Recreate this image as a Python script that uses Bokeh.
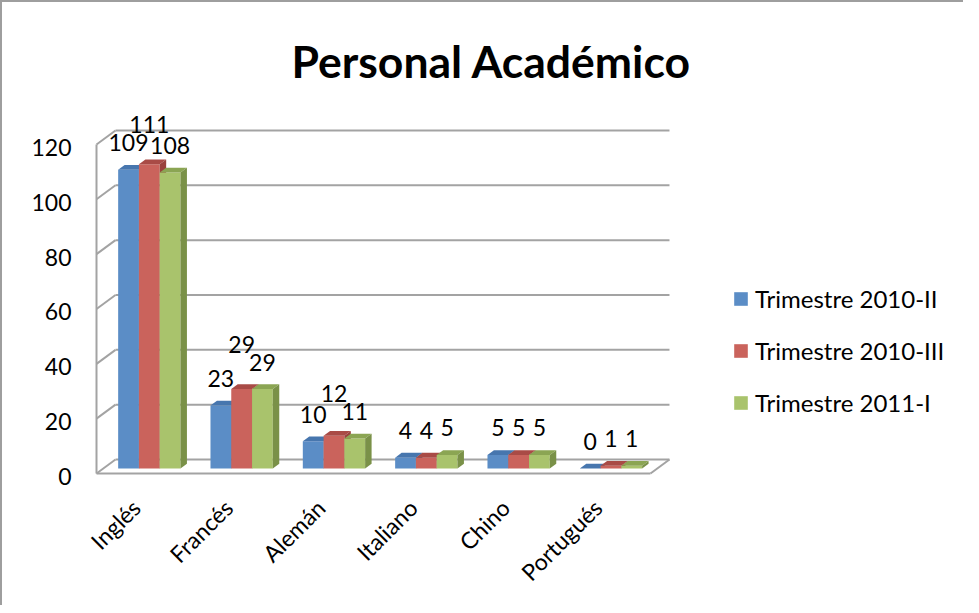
import math
from bokeh.plotting import figure
from bokeh.models import (ColumnDataSource, FixedTicker, Range1d, Legend, LegendItem, Label,
                          CustomJSTickFormatter)
from bokeh.core.properties import value
from bokeh.embed import file_html
from bokeh.resources import INLINE

# ---------------- data ----------------
categories = ["Inglés", "Francés", "Alemán", "Italiano", "Chino", "Portugués"]
series_names = ["Trimestre 2010-II", "Trimestre 2010-III", "Trimestre 2011-I"]
trim_2010_II = [109, 23, 10, 4, 5, 0]
trim_2010_III = [111, 29, 12, 4, 5, 1]
trim_2011_I = [108, 29, 11, 5, 5, 1]
y_ticks = [0, 20, 40, 60, 80, 100, 120]
title_text = "Personal Académico"

# ---------------- style ----------------
FONT = "Lato"
front_colors = ["#5B8DC6", "#CA635C", "#A9C36C"]
top_colors = ["#4776AE", "#A94B46", "#8BA553"]
side_colors = ["#3F6A9E", "#9A423D", "#7A9148"]
LINE_COLOR = "#A3A3A3"

W, H = 963, 605
PX = 92.33      # px per category
PY = 2.742      # px per value unit
FRAME_LEFT = 93  # canvas px
FRAME_BOTTOM = 476
PAD = 3
SHIFT = 0.072   # category centres sit a little right of the (invisible) ticks
x_start = -0.5 + SHIFT - PAD / PX
x_end = x_start + (W - FRAME_LEFT) / PX
y_start = -PAD / PY
y_end = y_start + FRAME_BOTTOM / PY
YLAB_OFF = 3 / PY  # y tick labels sit slightly below their gridline ends

DXu = 19 / PX     # 3D depth offset in data units
DYu = 14 / PY
F0 = 0.35         # depth of bar front
DEP = 0.34        # bar depth fraction
BW = 0.225        # bar width (category units)


def xdata(page_x):
    return x_start + (page_x - (FRAME_LEFT + 8)) / PX


def ydata(page_y):
    return y_start + ((FRAME_BOTTOM + 8) - page_y) / PY


p = figure(width=W, height=H, output_backend="svg", toolbar_location=None,
           x_range=Range1d(x_start, x_end), y_range=Range1d(y_start, y_end),
           min_border_left=FRAME_LEFT, min_border_right=0, min_border_top=0,
           min_border_bottom=H - FRAME_BOTTOM,
           background_fill_color=None, border_fill_color=None, outline_line_color=None)
p.styles = {"box-shadow": "inset 2px 2px 0 0 #9E9E9E", "margin-bottom": "-8px"}
p.grid.visible = False

# axes
ya = p.yaxis[0]
ya.ticker = FixedTicker(ticks=[v - YLAB_OFF for v in y_ticks])
ya.formatter = CustomJSTickFormatter(args=dict(off=YLAB_OFF),
                                     code="return String(Math.round(tick + off))")
ya.axis_line_color = None
ya.major_tick_line_color = None
ya.minor_tick_line_color = None
ya.major_tick_out = 0
ya.major_tick_in = 0
ya.major_label_standoff = 22
ya.major_label_text_font = FONT
ya.major_label_text_font_size = "23px"
ya.major_label_text_color = "#000000"

xa = p.xaxis[0]
xa.ticker = FixedTicker(ticks=list(range(len(categories))))
xa.major_label_overrides = {i: c for i, c in enumerate(categories)}
xa.axis_line_color = None
xa.major_tick_line_color = None
xa.minor_tick_line_color = None
xa.major_tick_out = 0
xa.major_tick_in = 0
xa.major_label_standoff = 27
xa.major_label_orientation = math.pi / 4
xa.major_label_text_font = FONT
xa.major_label_text_font_size = "23px"
xa.major_label_text_color = "#000000"

# 3D box lines
n = len(categories)
cx = [i + SHIFT for i in range(n)]
left, right = -0.5 + SHIFT, n - 0.5 + SHIFT
xs, ys = [], []
for v in y_ticks:
    xs.append([left + DXu, right + DXu]); ys.append([v + DYu, v + DYu])
    xs.append([left, left + DXu]); ys.append([v, v + DYu])
xs.append([left, left]); ys.append([0, y_ticks[-1]])
xs.append([left, right]); ys.append([0, 0])
xs.append([right, right + DXu]); ys.append([0, DYu])
p.multi_line(xs=xs, ys=ys, line_color=LINE_COLOR, line_width=2)

# bars
series = [trim_2010_II, trim_2010_III, trim_2011_I]
front_renderers = []
for s, vals in enumerate(series):
    x0 = [c + (s - 1.5) * BW + F0 * DXu for c in cx]
    x1 = [a + BW for a in x0]
    base = [F0 * DYu] * n
    top = [v + F0 * DYu for v in vals]
    dx, dy = DEP * DXu, DEP * DYu
    r = p.quad(left=x0, right=x1, bottom=base, top=top,
               fill_color=front_colors[s], line_color=None)
    front_renderers.append(r)
    tx = [[a, b, b + dx, a + dx] for a, b in zip(x0, x1)]
    ty = [[t, t, t + dy, t + dy] for t in top]
    p.patches(xs=tx, ys=ty, fill_color=top_colors[s], line_color=None)
    sx = [[b, b + dx, b + dx, b] for b in x1]
    sy = [[bb, bb + dy, t + dy, t] for bb, t in zip(base, top)]
    p.patches(xs=sx, ys=sy, fill_color=side_colors[s], line_color=None)

# value labels (middle label lifted above neighbours when they would collide)
GAP = 27 / PY
LIFT = 18 / PY
DIGIT = 13.2
lx, lyy, lt = [], [], []
for i in range(n):
    vals = [series[s][i] for s in range(3)]
    pos = [v + F0 * DYu + GAP for v in vals]
    widths = [len(str(v)) * DIGIT for v in vals]
    hi = None
    for nb in (0, 2):
        if (widths[1] + widths[nb]) / 2 > BW * PX and abs(pos[1] - pos[nb]) * PY < 17:
            hi = pos[nb] if hi is None else max(hi, pos[nb])
    if hi is not None:
        pos[1] = hi + LIFT
    for s in range(3):
        lx.append(cx[i] + (s - 1) * BW + F0 * DXu)
        lyy.append(pos[s])
        lt.append(str(vals[s]))
src = ColumnDataSource(dict(x=lx, y=lyy, text=lt))
p.text(x="x", y="y", text="text", source=src, text_align="center", text_baseline="middle",
       text_font=value(FONT), text_font_size="23px", text_color="#000000")

# title
p.add_layout(Label(x=xdata(499), y=ydata(68), text=title_text, text_font=FONT,
                   text_font_size="44.5px", text_font_style="bold", text_align="center",
                   text_baseline="alphabetic", text_color="#000000"))

# legend
legend = Legend(items=[LegendItem(label=series_names[s], renderers=[front_renderers[s]])
                       for s in range(3)],
                location=(639, 59), orientation="vertical",
                background_fill_alpha=0, border_line_color=None,
                label_text_font=FONT, label_text_font_size="24px", label_text_color="#000000",
                glyph_width=17, glyph_height=17, label_standoff=6, spacing=23,
                padding=0, margin=0)
p.add_layout(legend)

open("out.html", "w").write(file_html(p, INLINE))
